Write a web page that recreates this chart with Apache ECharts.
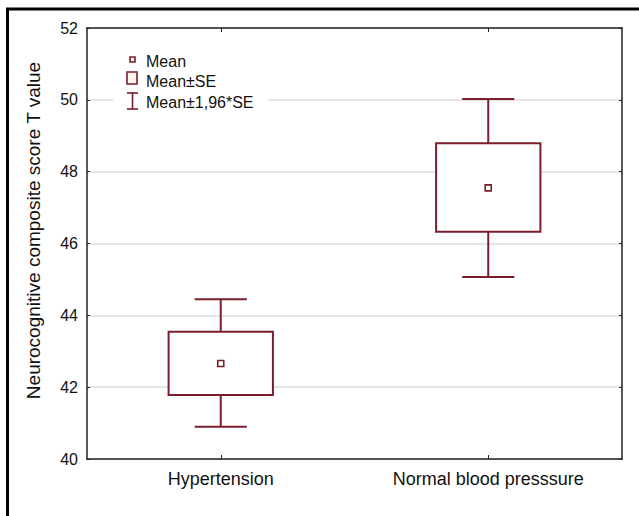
<!DOCTYPE html>
<html>
<head>
<meta charset="utf-8">
<script src="https://cdn.jsdelivr.net/npm/echarts@6/dist/echarts.min.js"></script>
<style>
html,body{margin:0;padding:0;background:#fff;}
#main{width:639px;height:516px;}
</style>
</head>
<body>
<div id="main"></div>
<script>
// ---- data ----
const categories = ['Hypertension', 'Normal blood presssure'];
const means   = [42.66, 47.55];
const seLower = [41.78, 46.33];
const seUpper = [43.54, 48.79];
const ciLower = [40.90, 45.07];
const ciUpper = [44.45, 50.02];
const yTicks  = [40, 42, 44, 46, 48, 50, 52];
const legendLabels = ['Mean', 'Mean±SE', 'Mean±1,96*SE'];

const MAROON = '#7a1e2b';
const FONT = 'Liberation Sans, Arial, sans-serif';

const seriesData = categories.map((c, i) => [i, means[i], seLower[i], seUpper[i], ciLower[i], ciUpper[i]]);

const chart = echarts.init(document.getElementById('main'), null, {renderer: 'svg'});

function renderItem(params, api) {
  const x = api.value(0);
  const pM  = api.coord([x, api.value(1)]);
  const pSL = api.coord([x, api.value(2)]);
  const pSH = api.coord([x, api.value(3)]);
  const pCL = api.coord([x, api.value(4)]);
  const pCH = api.coord([x, api.value(5)]);
  const band = api.size([1, 0])[0];
  const bw = band * 0.39;
  const cw = band * 0.195;
  const cx = pM[0];
  const st = {stroke: MAROON, lineWidth: 2, fill: 'none'};
  return {
    type: 'group',
    children: [
      {type: 'line', shape: {x1: cx, y1: pCH[1], x2: cx, y2: pSH[1]}, style: st},
      {type: 'line', shape: {x1: cx, y1: pSL[1], x2: cx, y2: pCL[1]}, style: st},
      {type: 'line', shape: {x1: cx - cw / 2, y1: pCH[1], x2: cx + cw / 2, y2: pCH[1]}, style: st},
      {type: 'line', shape: {x1: cx - cw / 2, y1: pCL[1], x2: cx + cw / 2, y2: pCL[1]}, style: st},
      {type: 'rect', shape: {x: cx - bw / 2, y: pSH[1], width: bw, height: pSL[1] - pSH[1]},
        style: {stroke: MAROON, lineWidth: 2, fill: '#ffffff'}},
      {type: 'rect', shape: {x: cx - 3, y: pM[1] - 3, width: 6, height: 6},
        style: {stroke: MAROON, lineWidth: 1.6, fill: '#ffffff'}}
    ]
  };
}

const axisLineStyle = {color: '#222', width: 1.5};

const option = {
  backgroundColor: '#ffffff',
  animation: false,
  grid: {left: 87, right: 17, top: 28, bottom: 57, containLabel: false},
  xAxis: [
    {
      type: 'category', data: categories, position: 'bottom',
      axisLine: {show: true, lineStyle: axisLineStyle},
      axisTick: {show: true, inside: true, alignWithLabel: true, length: 4, lineStyle: {color: '#222'}},
      axisLabel: {color: '#111', fontSize: 18, fontFamily: FONT, margin: 11},
      splitLine: {show: false}
    },
    {
      type: 'category', data: categories, position: 'top',
      axisLine: {show: true, lineStyle: axisLineStyle},
      axisTick: {show: true, inside: true, alignWithLabel: true, length: 4, lineStyle: {color: '#222'}},
      axisLabel: {show: false}
    }
  ],
  yAxis: [
    {
      type: 'value', min: yTicks[0], max: yTicks[yTicks.length - 1], interval: yTicks[1] - yTicks[0],
      position: 'left',
      name: 'Neurocognitive composite score T value', nameLocation: 'middle', nameGap: 44,
      nameTextStyle: {color: '#111', fontSize: 19, fontFamily: FONT, padding: [0, 0, 0, 26]},
      axisLine: {show: true, lineStyle: axisLineStyle},
      axisTick: {show: true, inside: true, length: 3, lineStyle: {color: '#222'}},
      axisLabel: {color: '#111', fontSize: 16, fontFamily: FONT, margin: 9},
      splitLine: {show: true, lineStyle: {color: '#dcdcdc', width: 1.5}}
    },
    {
      type: 'value', min: yTicks[0], max: yTicks[yTicks.length - 1], interval: yTicks[1] - yTicks[0],
      position: 'right',
      axisLine: {show: true, lineStyle: axisLineStyle},
      axisTick: {show: true, inside: true, length: 3, lineStyle: {color: '#222'}},
      axisLabel: {show: false},
      splitLine: {show: false}
    }
  ],
  series: [{
    type: 'custom',
    name: 'Mean',
    renderItem: renderItem,
    encode: {x: 0, y: [1, 2, 3, 4, 5]},
    data: seriesData,
    z: 5
  }],
  graphic: [
    // outer figure frame (right and bottom edges lie outside the page)
    {type: 'rect', shape: {x: 7.5, y: 9, width: 700, height: 600}, style: {stroke: '#000', lineWidth: 3, fill: 'none'}, z: 100},
    // legend background
    {type: 'rect', shape: {x: 113, y: 48, width: 155, height: 64}, style: {fill: '#ffffff'}, z: 50},
    // Mean icon
    {type: 'rect', shape: {x: 130, y: 57, width: 5, height: 5}, style: {stroke: MAROON, lineWidth: 1.6, fill: '#fff5e8'}, z: 51},
    // Mean±SE icon
    {type: 'rect', shape: {x: 127, y: 72, width: 10, height: 12}, style: {stroke: MAROON, lineWidth: 1.6, fill: '#fff5e8'}, z: 51},
    // Mean±1,96*SE icon
    {type: 'line', shape: {x1: 127, y1: 93, x2: 138, y2: 93}, style: {stroke: MAROON, lineWidth: 1.6}, z: 51},
    {type: 'line', shape: {x1: 132.5, y1: 93, x2: 132.5, y2: 109}, style: {stroke: MAROON, lineWidth: 1.6}, z: 51},
    {type: 'line', shape: {x1: 127, y1: 109, x2: 138, y2: 109}, style: {stroke: MAROON, lineWidth: 1.6}, z: 51},
    {type: 'text', x: 146, y: 61, style: {text: legendLabels[0], fill: '#111', font: '16px ' + FONT, verticalAlign: 'middle'}, z: 51},
    {type: 'text', x: 146, y: 81, style: {text: legendLabels[1], fill: '#111', font: '16px ' + FONT, verticalAlign: 'middle'}, z: 51},
    {type: 'text', x: 146, y: 102, style: {text: legendLabels[2], fill: '#111', font: '16px ' + FONT, verticalAlign: 'middle'}, z: 51}
  ]
};

chart.setOption(option);
</script>
</body>
</html>
